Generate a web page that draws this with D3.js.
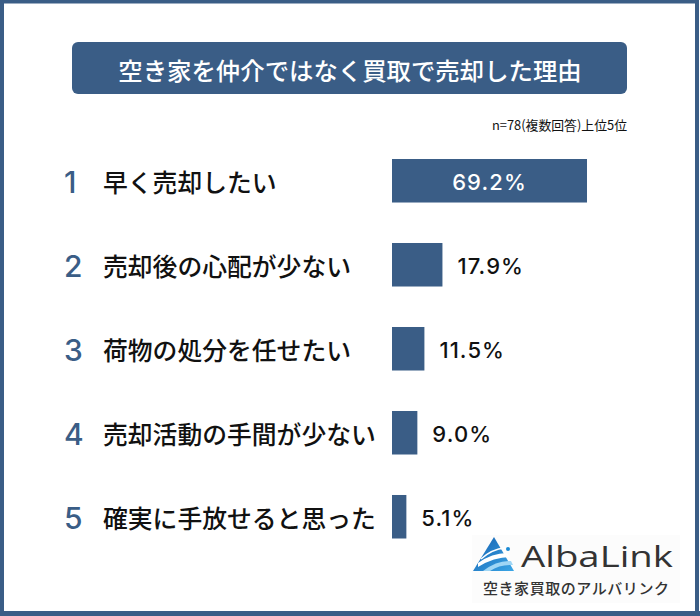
<!DOCTYPE html>
<html>
<head>
<meta charset="utf-8">
<script src="https://cdn.jsdelivr.net/npm/d3@7"></script>
<style>
  html, body { margin: 0; padding: 0; background: #fff; }
  svg { display: block; }
</style>
</head>
<body>
<svg id="chart" width="700" height="616"></svg>
<script>
// ---- data ----
const ranks = ["1", "2", "3", "4", "5"];
const reasons = ["早く売却したい", "売却後の心配が少ない", "荷物の処分を任せたい", "売却活動の手間が少ない", "確実に手放せると思った"];
const percents = [69.2, 17.9, 11.5, 9.0, 5.1];
const valueLabels = ["69.2%", "17.9%", "11.5%", "9.0%", "5.1%"];
const title = "空き家を仲介ではなく買取で売却した理由";
const note = "n=78(複数回答)上位5位";
const brand = "AlbaLink";
const brandSub = "空き家買取のアルバリンク";

const blue = "#3a5d86";
const jp = "'Noto Sans CJK JP', 'Noto Sans', sans-serif";
const latin = "Inter, 'Open Sans', sans-serif";

const svg = d3.select("#chart");

// frame
svg.append("rect").attr("x", 2).attr("y", 1.5).attr("width", 695).attr("height", 611.5)
  .attr("fill", "#fff").attr("stroke", blue).attr("stroke-width", 4);
svg.append("rect").attr("x", 0).attr("y", 611).attr("width", 700).attr("height", 5).attr("fill", blue);

// title box
svg.append("rect").attr("x", 72).attr("y", 42).attr("width", 555).attr("height", 52)
  .attr("rx", 6).attr("fill", blue);
svg.append("text").attr("x", 350).attr("y", 69).attr("text-anchor", "middle")
  .attr("dominant-baseline", "central").attr("fill", "#fff")
  .attr("font-family", jp).attr("font-size", 24.4).attr("font-weight", 500)
  .text(title);

svg.append("text").attr("x", 627).attr("y", 130).attr("text-anchor", "end")
  .attr("fill", "#111").attr("font-family", jp).attr("font-size", 13)
  .attr("textLength", 135).attr("lengthAdjust", "spacingAndGlyphs")
  .text(note);

// scales
const y = d3.scaleBand().domain(ranks).range([159, 538.5]).paddingInner(0.482).paddingOuter(0);
const x = d3.scaleLinear().domain([0, 100]).range([392, 392 + 281.8]);

const rows = svg.append("g").selectAll("g").data(ranks).join("g");

rows.append("text")
  .attr("x", 64).attr("y", d => y(d) + y.bandwidth() / 2 + 1)
  .attr("dominant-baseline", "central")
  .attr("fill", blue).attr("font-family", latin).attr("font-size", 30).attr("font-weight", 500)
  .text(d => d);

rows.append("text")
  .attr("x", 103).attr("y", (d, i) => y(d) + y.bandwidth() / 2)
  .attr("dominant-baseline", "central")
  .attr("fill", "#111").attr("font-family", jp).attr("font-size", 24.8).attr("font-weight", 500)
  .text((d, i) => reasons[i]);

rows.append("rect")
  .attr("x", x(0)).attr("y", d => y(d))
  .attr("width", (d, i) => x(percents[i]) - x(0))
  .attr("height", y.bandwidth())
  .attr("fill", blue);

rows.append("text")
  .attr("x", (d, i) => i === 0 ? (x(0) + x(percents[i])) / 2 : x(percents[i]) + 15)
  .attr("y", d => y(d) + y.bandwidth() / 2 + 1)
  .attr("dominant-baseline", "central")
  .attr("text-anchor", (d, i) => i === 0 ? "middle" : "start")
  .attr("fill", (d, i) => i === 0 ? "#fff" : "#111")
  .attr("font-family", latin).attr("font-size", 22).attr("font-weight", 500)
  .attr("letter-spacing", 1.1)
  .text((d, i) => valueLabels[i]);

// logo
const logo = svg.append("g");
logo.append("rect").attr("x", 472).attr("y", 535).attr("width", 208).attr("height", 68).attr("fill", "#fcfcfc");
const defs = svg.append("defs");
const grad = defs.append("linearGradient").attr("id", "tri").attr("x1", 0).attr("y1", 0).attr("x2", 1).attr("y2", 1);
grad.append("stop").attr("offset", "0%").attr("stop-color", "#1560b0");
grad.append("stop").attr("offset", "100%").attr("stop-color", "#3aa6e6");
logo.append("path").attr("d", "M494,537 L473,571 L514,571 Z").attr("fill", "url(#tri)");
logo.append("path").attr("d", "M478,563 Q492,553 507,553 L510,557 Q494,557 478,567 Z").attr("fill", "#fff");
logo.append("path").attr("d", "M483,571 Q497,560 511,561 L513,565 Q500,564 490,571 Z").attr("fill", "#9fd6f5");
logo.append("path").attr("d", "M481,559 Q492,549 505,548").attr("fill", "none").attr("stroke", "#fff").attr("stroke-width", 1.5);
logo.append("circle").attr("cx", 508).attr("cy", 549).attr("r", 2).attr("fill", "#1a8ad4");
logo.append("text").attr("x", 521).attr("y", 567).attr("fill", "#333")
  .attr("font-family", "'Open Sans', sans-serif").attr("font-size", 29).attr("textLength", 152).attr("lengthAdjust", "spacingAndGlyphs")
  .text(brand);
logo.append("text").attr("x", 483).attr("y", 594).attr("fill", "#333")
  .attr("font-family", jp).attr("font-size", 15).attr("font-weight", 500).attr("textLength", 186)
  .text(brandSub);
</script>
</body>
</html>
